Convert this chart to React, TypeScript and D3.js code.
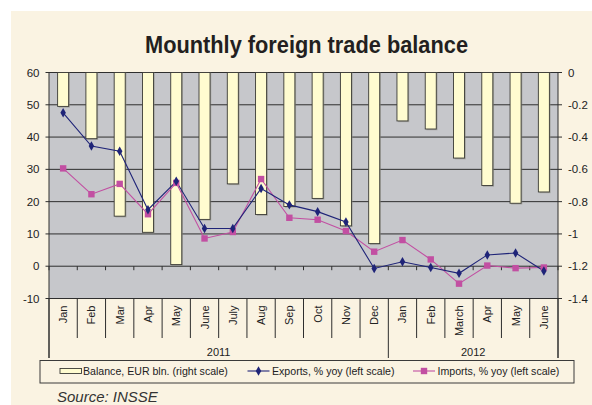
import React from "react";
import * as d3 from "d3";

const months = ["Jan","Feb","Mar","Apr","May","June","July","Aug","Sep","Oct","Nov","Dec","Jan","Feb","March","Apr","May","June"];
const yearLabels = ["2011", "2012"];
const yearSpans = [12, 6];
const balance = [-0.21,-0.41,-0.89,-0.99,-1.19,-0.91,-0.69,-0.88,-0.83,-0.78,-0.95,-1.06,-0.30,-0.35,-0.53,-0.70,-0.81,-0.74];
const exportsYoy = [47.5,37.2,35.6,17.5,26.3,11.7,11.7,24.1,19.0,16.9,13.7,-0.7,1.4,-0.4,-2.2,3.5,4.1,-1.5];
const importsYoy = [30.3,22.3,25.5,16.1,25.8,8.6,10.6,27.0,15.0,14.4,10.9,4.5,8.1,2.1,-5.4,0.2,-0.6,-0.4];
const leftTicks = [-10,0,10,20,30,40,50,60];
const rightTicks = [0,-0.2,-0.4,-0.6,-0.8,-1,-1.2,-1.4];
const legendLabels = ["Balance, EUR bln. (right scale)", "Exports, % yoy (left scale)", "Imports, % yoy (left scale)"];

const FONT = "'Liberation Sans', Arial, sans-serif";
const BG = "#FAF3E2";
const PLOT_BG = "#C6C7CB";
const BAR_FILL = "#FFFCD0";
const EXP_COLOR = "#1F2478";
const IMP_COLOR = "#C24FA2";
const TEXT = "#222";

export default function App() {
  const L = 49, R = 558, T = 72.5, B = 298.5;
  const idx = months.map((_, i) => i);
  const x = d3.scaleBand<number>().domain(idx).range([L, R]).paddingInner(0).paddingOuter(0);
  const yL = d3.scaleLinear().domain([-10, 60]).range([B, T]);
  const yR = d3.scaleLinear().domain([-1.4, 0]).range([B, T]);
  const bw = x.bandwidth() * 0.39;
  const cx = (i: number) => (x(i) as number) + x.bandwidth() / 2;

  const lineL = d3.line<number>().x((_, i) => cx(i)).y(d => yL(d));

  const boundaries = d3.range(0, months.length + 1).map(i => L + i * x.bandwidth());
  let acc = 0;
  const yearBounds = [0];
  yearSpans.forEach(s => { acc += s; yearBounds.push(acc); });

  const diamond = d3.symbol().type(d3.symbolDiamond).size(26)() as string;

  return (
    <svg width={592} height={405} style={{ position: "absolute", left: 0, top: 0 }} fontFamily={FONT}>
      <rect x={0} y={0} width={592} height={405} fill="#fff" />
      <rect x={11} y={11} width={581} height={394} fill={BG} />
      <text x={306.5} y={53} textAnchor="middle" fontSize={24} fontWeight="bold" fill="#231F20"
        textLength={323} lengthAdjust="spacingAndGlyphs">Mounthly foreign trade balance</text>

      {/* plot background */}
      <rect x={L} y={T} width={R - L} height={B - T} fill={PLOT_BG} />
      {/* gridlines */}
      {leftTicks.map(t => (
        <line key={"g" + t} x1={L} x2={R} y1={yL(t)} y2={yL(t)} stroke="#2e2e2e" strokeWidth={1} />
      ))}

      {/* bars */}
      {balance.map((v, i) => (
        <g key={"b" + i}>
          <rect x={cx(i) - bw / 2 + 1.2} y={yR(0)} width={bw} height={yR(v) - yR(0) + 1.2} fill="#8a8a80" opacity={0.6} />
          <rect x={cx(i) - bw / 2} y={yR(0)} width={bw} height={yR(v) - yR(0)} fill={BAR_FILL} stroke="#3a3a35" strokeWidth={0.9} />
        </g>
      ))}

      {/* zero-line ticks */}
      {boundaries.map((bx, i) => (
        <line key={"zt" + i} x1={bx} x2={bx} y1={yL(0)} y2={yL(0) + 4} stroke="#2e2e2e" strokeWidth={1} />
      ))}

      {/* lines */}
      <path d={lineL(importsYoy) as string} fill="none" stroke={IMP_COLOR} strokeWidth={1.1} />
      <path d={lineL(exportsYoy) as string} fill="none" stroke={EXP_COLOR} strokeWidth={1.1} />
      {importsYoy.map((v, i) => (
        <rect key={"im" + i} x={cx(i) - 3.2} y={yL(v) - 3.2} width={6.4} height={6.4} fill={IMP_COLOR} />
      ))}
      {exportsYoy.map((v, i) => (
        <path key={"ex" + i} d={diamond} transform={`translate(${cx(i)},${yL(v)})`} fill={EXP_COLOR} />
      ))}

      {/* left axis */}
      <line x1={L} x2={L} y1={T} y2={358} stroke="#2e2e2e" strokeWidth={1} />
      {leftTicks.map(t => (
        <g key={"lt" + t}>
          <line x1={L - 3.5} x2={L} y1={yL(t)} y2={yL(t)} stroke="#2e2e2e" />
          <text x={39.5} y={yL(t)} dy="0.36em" textAnchor="end" fontSize={11.5} fill={TEXT}>{t}</text>
        </g>
      ))}
      {/* right axis */}
      <line x1={R} x2={R} y1={T} y2={358} stroke="#2e2e2e" strokeWidth={1} />
      {rightTicks.map(t => (
        <g key={"rt" + t}>
          <line x1={R} x2={R + 4} y1={yR(t)} y2={yR(t)} stroke="#2e2e2e" />
          <text x={568} y={yR(t)} dy="0.36em" textAnchor="start" fontSize={11.5} fill={TEXT}>{t}</text>
        </g>
      ))}

      {/* category separators */}
      {boundaries.map((bx, i) => (
        <line key={"cs" + i} x1={bx} x2={bx} y1={B} y2={yearBounds.includes(i) ? 358 : 338} stroke="#2e2e2e" strokeWidth={1} />
      ))}
      {months.map((m, i) => (
        <text key={"m" + i} transform={`translate(${cx(i) + 4},305.5) rotate(-90)`} textAnchor="end" fontSize={11} fill={TEXT}>{m}</text>
      ))}
      {yearLabels.map((yl, k) => {
        const x0 = L + yearBounds[k] * x.bandwidth();
        const x1 = L + yearBounds[k + 1] * x.bandwidth();
        return <text key={"y" + k} x={(x0 + x1) / 2} y={355.5} textAnchor="middle" fontSize={11} fill={TEXT}>{yl}</text>;
      })}

      {/* legend */}
      <rect x={40} y={360.5} width={534} height={22.5} fill={BG} stroke="#3a3a3a" strokeWidth={1} />
      <rect x={60} y={368.5} width={21.5} height={5} fill={BAR_FILL} stroke="#3a3a35" strokeWidth={0.9} />
      <text x={83} y={375} fontSize={10.6} fill={TEXT}>{legendLabels[0]}</text>
      <line x1={247.5} x2={269.5} y1={371} y2={371} stroke={EXP_COLOR} strokeWidth={1.1} />
      <path d={diamond} transform="translate(258.5,371)" fill={EXP_COLOR} />
      <text x={272} y={375} fontSize={10.6} fill={TEXT}>{legendLabels[1]}</text>
      <line x1={413} x2={435} y1={371} y2={371} stroke={IMP_COLOR} strokeWidth={1.1} />
      <rect x={420.8} y={367.8} width={6.4} height={6.4} fill={IMP_COLOR} />
      <text x={437.5} y={375} fontSize={10.6} fill={TEXT}>{legendLabels[2]}</text>

      <text x={57} y={401.5} fontSize={15} fontStyle="italic" fill="#333">Source: INSSE</text>
    </svg>
  );
}
